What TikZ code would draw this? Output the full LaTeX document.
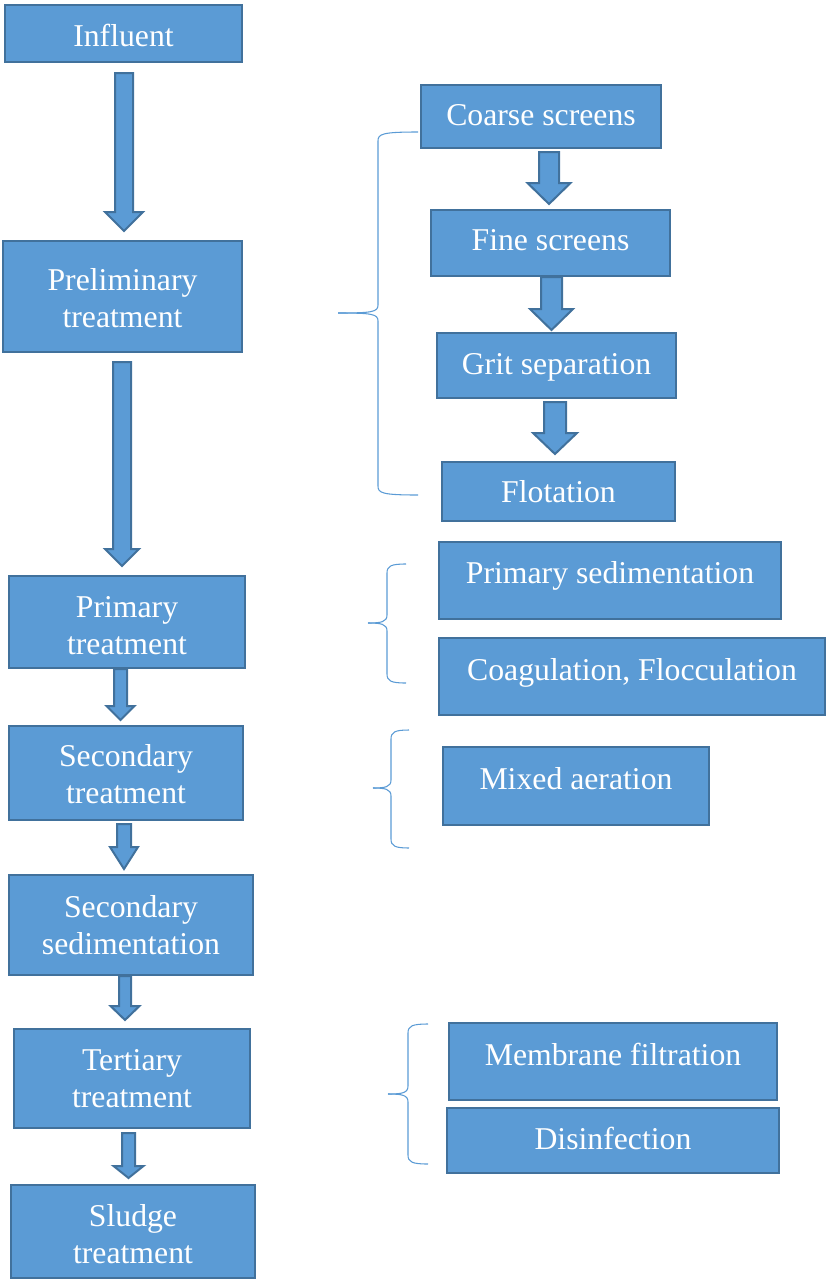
\documentclass[tikz,border=0pt]{standalone}
\usepackage{fontspec}
\setmainfont{Liberation Serif}
\usetikzlibrary{calc}
\definecolor{boxfill}{HTML}{5B9BD5}
\definecolor{boxline}{HTML}{41719C}
\tikzset{
  box/.style={draw=boxline, fill=boxfill, line width=1.5pt, rectangle, inner sep=0pt,
    text=white, align=center, font=\fontsize{23.8}{27.8}\selectfont},
  blockarr/.style={draw=boxline, fill=boxfill, line width=1.5pt, line join=miter},
  bracestyle/.style={draw=boxfill, line width=0.8pt}
}
\newcommand\sh[2]{\raisebox{#1}[\height][\depth]{#2}}
\newcommand\bx[6]{\node[box, minimum width={(#4-#2)*0.75pt}, minimum height={(#5-#3)*0.75pt}] (#1) at ({(#2+#4)/2},{(#3+#5)/2}) {#6};}
\newcommand\barrow[8]{%
  \coordinate (ba-s) at (#3,0 |- #1.south);
  \coordinate (ba-t) at (#3,0 |- #2.north);
  \draw[blockarr] ($(ba-s)+(-#4,#7)$) -- ($(ba-t)+(-#4,{-#8-#6})$) -- ($(ba-t)+(-#5,{-#8-#6})$)
    -- ($(ba-t)+(0,-#8)$) -- ($(ba-t)+(#5,{-#8-#6})$) -- ($(ba-t)+(#4,{-#8-#6})$)
    -- ($(ba-s)+(#4,#7)$) -- cycle;}
\newcommand\curlybrace[6]{%
  \draw[bracestyle] (#1,#2) .. controls ({#4+4},#2) and (#4,{#2+2}) .. (#4,{#2+9})
    -- (#4,{#6-8}) .. controls (#4,{#6-1}) and ({#4-6},#6) .. (#5,#6);
  \draw[bracestyle] (#5,#6) .. controls ({#4-6},#6) and (#4,{#6+1}) .. (#4,{#6+8})
    -- (#4,{#3-9}) .. controls (#4,{#3-2}) and ({#4+4},#3) .. (#1,#3);}
\begin{document}
\begin{tikzpicture}[x=0.75pt,y=-0.75pt]
\useasboundingbox (0,0) rectangle (827,1279);
% left column
\bx{infl}{5}{5}{242}{62}{\sh{-1.3pt}{Influent}}
\bx{prel}{3}{241}{242}{352}{\sh{-0.9pt}{Preliminary}\\\sh{-0.9pt}{treatment}}
\bx{prim}{9}{576}{245}{668}{\sh{-3pt}{Primary}\\\sh{-3pt}{treatment}}
\bx{sect}{9}{726}{243}{820}{\sh{-1pt}{Secondary}\\\sh{-1pt}{treatment}}
\bx{ssed}{9}{875}{253}{975}{Secondary\\sedimentation}
\bx{tert}{14}{1029}{250}{1128}{Tertiary\\treatment}
\bx{sldg}{11}{1185}{255}{1278}{\sh{-2.25pt}{Sludge}\\\sh{-2.25pt}{treatment}}
% right column
\bx{coar}{421}{85}{661}{148}{\sh{0.75pt}{Coarse screens}}
\bx{fine}{431}{210}{670}{276}{\sh{1.8pt}{Fine screens}}
\bx{grit}{437}{333}{676}{398}{\sh{-1.5pt}{Grit separation}}
\bx{flot}{442}{462}{675}{521}{Flotation}
\bx{psed}{439}{542}{781}{619}{\sh{3.2pt}{Primary sedimentation}}
\bx{coag}{439}{638}{825}{715}{\sh{3pt}{Coagulation, Flocculation}}
\bx{mixa}{443}{747}{709}{825}{\sh{5.3pt}{Mixed aeration}}
\bx{memb}{449}{1023}{777}{1100}{\sh{5pt}{Membrane filtration}}
\bx{disi}{447}{1108}{779}{1173}{\sh{1.5pt}{Disinfection}}
% arrows
\barrow{infl}{prel}{124}{9}{19}{19}{10}{9}
\barrow{prel}{prim}{122}{9}{17}{17}{9}{9}
\barrow{prim}{sect}{120.5}{6.5}{14}{14}{0}{5}
\barrow{sect}{ssed}{124}{7}{14}{22}{3}{5}
\barrow{ssed}{tert}{125}{6}{14.5}{14}{0}{8}
\barrow{tert}{sldg}{128.5}{6.5}{15}{12}{4}{6}
\barrow{coar}{fine}{549}{10}{21.5}{21}{3}{5}
\barrow{fine}{grit}{551.5}{10.5}{21.5}{21}{0}{2}
\barrow{grit}{flot}{555}{11}{22}{21}{3}{7}
% braces
\curlybrace{418}{132}{495}{378}{338}{313}
\curlybrace{406}{564}{683}{387}{368}{623}
\curlybrace{409}{730}{848}{391}{373}{788}
\curlybrace{428}{1024}{1164}{408}{388}{1094}
\end{tikzpicture}
\end{document}
